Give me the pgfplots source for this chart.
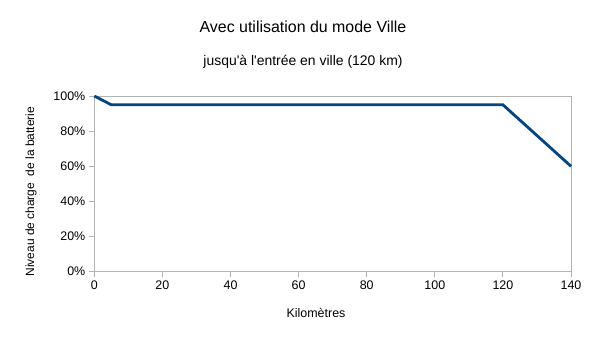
\documentclass[border=0pt]{standalone}
\usepackage{fontspec}
\setmainfont{Liberation Sans}
\usepackage{pgfplots}
\pgfplotsset{compat=1.18}
\definecolor{linec}{HTML}{004586}
\definecolor{axc}{HTML}{B3B3B3}
\begin{document}
\begin{tikzpicture}[x=1bp,y=1bp]
\path[use as bounding box] (-94.3,-69.3) rectangle (511.7,271.7);
\begin{axis}[
  at={(0,0)}, anchor=south west,
  scale only axis, width=476.7bp, height=175.7bp,
  xmin=0, xmax=140, ymin=0, ymax=100,
  xtick={0,20,...,140}, ytick={0,20,...,100},
  yticklabel={\pgfmathprintnumber{\tick}\%},
  /pgf/number format/assume math mode=true,
  ticklabel style={font=\fontsize{12.5}{13}\selectfont, text=black},
  axis line style={axc, line width=0.9bp},
  tick style={axc, line width=0.9bp},
  tick align=outside, major tick length=5.5bp,
  xtick pos=lower, ytick pos=left,
  clip=false,
]
\addplot[linec, line width=2.8bp] coordinates {(0,100) (5,95) (120,95) (140,60)};
\end{axis}
\node[font=\fontsize{16}{16}\selectfont] at (208.7,244.7) {Avec utilisation du mode Ville};
\node[font=\fontsize{14}{14}\selectfont] at (208.7,209.7) {jusqu\textquotesingle à l\textquotesingle entrée en ville (120 km)};
\node[font=\fontsize{12.5}{13}\selectfont] at (221.7,-41.3) {Kilomètres};
\node[font=\fontsize{12}{12}\selectfont, rotate=90] at (-63.3,80) {Niveau de charge \ de la batterie};
\end{tikzpicture}
\end{document}
